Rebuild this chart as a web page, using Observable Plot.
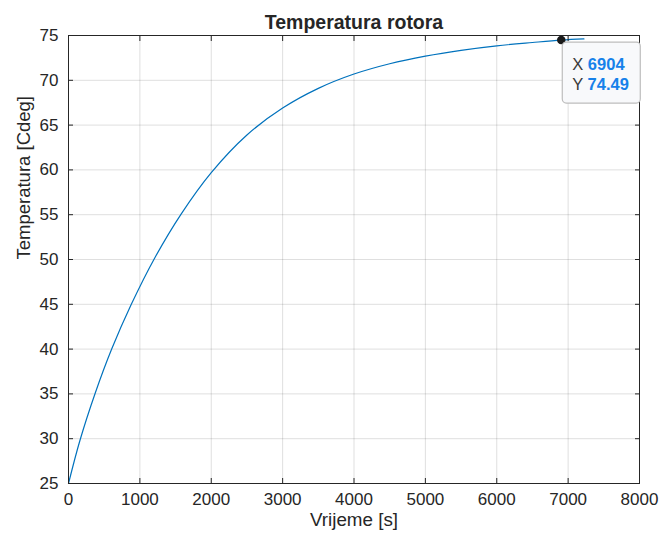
<!DOCTYPE html>
<html>
<head>
<meta charset="utf-8">
<script src="https://cdn.jsdelivr.net/npm/d3@7"></script>
<script src="https://cdn.jsdelivr.net/npm/@observablehq/plot@0.6"></script>
<style>
  html, body { margin: 0; padding: 0; background: #ffffff; }
  #chart svg { display: block; }
</style>
</head>
<body>
<div id="chart"></div>
<script>
// Values
const time = [0, 160, 375, 605, 880, 1210, 1580, 2000, 2500, 3000, 3500, 4000, 4500, 5000, 5500, 6000, 6500, 6904, 7222];
const temperature = [25, 29.8, 35.1, 40.0, 45.0, 50.2, 55.1, 59.7, 63.9, 66.9, 69.1, 70.7, 71.85, 72.7, 73.35, 73.85, 74.22, 74.49, 74.62];
const xTicks = [0, 1000, 2000, 3000, 4000, 5000, 6000, 7000, 8000];
const yTicks = [25, 30, 35, 40, 45, 50, 55, 60, 65, 70, 75];
const titleText = "Temperatura rotora";
const xLabel = "Vrijeme [s]";
const yLabel = "Temperatura [Cdeg]";
const tipX = 6904;
const tipY = 74.49;
const tipXText = "6904";
const tipYText = "74.49";

const data = time.map((t, i) => ({t, T: temperature[i]}));
const ink = "#262626";
const font = "'Liberation Sans', Arial, Helvetica, sans-serif";

function tipBox(index, scales) {
  const px = scales.x(tipX), py = scales.y(tipY);
  const g = d3.create("svg:g").attr("font-family", font).attr("text-anchor", "start");
  g.append("rect")
    .attr("x", px + 1.5).attr("y", py + 2.5)
    .attr("width", 78).attr("height", 61)
    .attr("rx", 4).attr("ry", 4)
    .attr("fill", "#f8f9fb").attr("stroke", "#bdbdbd").attr("stroke-width", 1.2);
  const rows = [["X ", tipXText, 30], ["Y ", tipYText, 50]];
  for (const [k, v, dy] of rows) {
    const t = g.append("text").attr("x", px + 11.5).attr("y", py + dy)
      .attr("font-size", 16.5).attr("text-anchor", "start");
    t.append("tspan").attr("fill", "#3a3a3a").text(k);
    t.append("tspan").attr("fill", "#1681ea").attr("font-weight", "bold").text(v);
  }
  return g.node();
}

const chart = Plot.plot({
  width: 662,
  height: 540,
  marginLeft: 68,
  marginRight: 23,
  marginTop: 35,
  marginBottom: 57,
  style: {fontFamily: font, fontSize: "17px", color: ink, background: "#ffffff"},
  x: {domain: [0, 8000]},
  y: {domain: [25, 75]},
  marks: [
    Plot.gridX(xTicks, {stroke: ink, strokeOpacity: 0.15, strokeWidth: 1}),
    Plot.gridY(yTicks, {stroke: ink, strokeOpacity: 0.15, strokeWidth: 1}),
    Plot.line(data, {x: "t", y: "T", stroke: "#0072BD", strokeWidth: 1.2, curve: "catmull-rom"}),
    Plot.frame({stroke: ink, strokeWidth: 1}),
    Plot.axisX(xTicks, {anchor: "bottom", tickSize: -5, tickFormat: () => "", label: null, stroke: ink}),
    Plot.axisX(xTicks, {anchor: "top", tickSize: -5, tickFormat: () => "", label: null, stroke: ink}),
    Plot.axisY(yTicks, {anchor: "left", tickSize: -5, tickFormat: () => "", label: null, stroke: ink}),
    Plot.axisY(yTicks, {anchor: "right", tickSize: -5, tickFormat: () => "", label: null, stroke: ink}),
    Plot.axisX(xTicks, {anchor: "bottom", tickSize: 0, tickPadding: 9, label: null, fontSize: 17, fill: ink, tickFormat: d => String(d)}),
    Plot.axisY(yTicks, {anchor: "left", tickSize: 0, tickPadding: 10, label: null, fontSize: 17, fill: ink, tickFormat: d => String(d)}),
    Plot.text([titleText], {text: d => d, frameAnchor: "top", dy: -20, fontWeight: "bold", fontSize: 19.5, fill: ink}),
    Plot.text([xLabel], {text: d => d, frameAnchor: "bottom", dy: 42, fontSize: 18.8, fill: ink}),
    Plot.text([yLabel], {text: d => d, frameAnchor: "left", dx: -44, rotate: -90, fontSize: 18.5, fill: ink}),
    Plot.dot([{x: tipX, y: tipY}], {x: "x", y: "y", r: 3.5, fill: "#1a1a1a", stroke: "#1a1a1a"}),
    tipBox
  ]
});
document.getElementById("chart").append(chart);
</script>
</body>
</html>
